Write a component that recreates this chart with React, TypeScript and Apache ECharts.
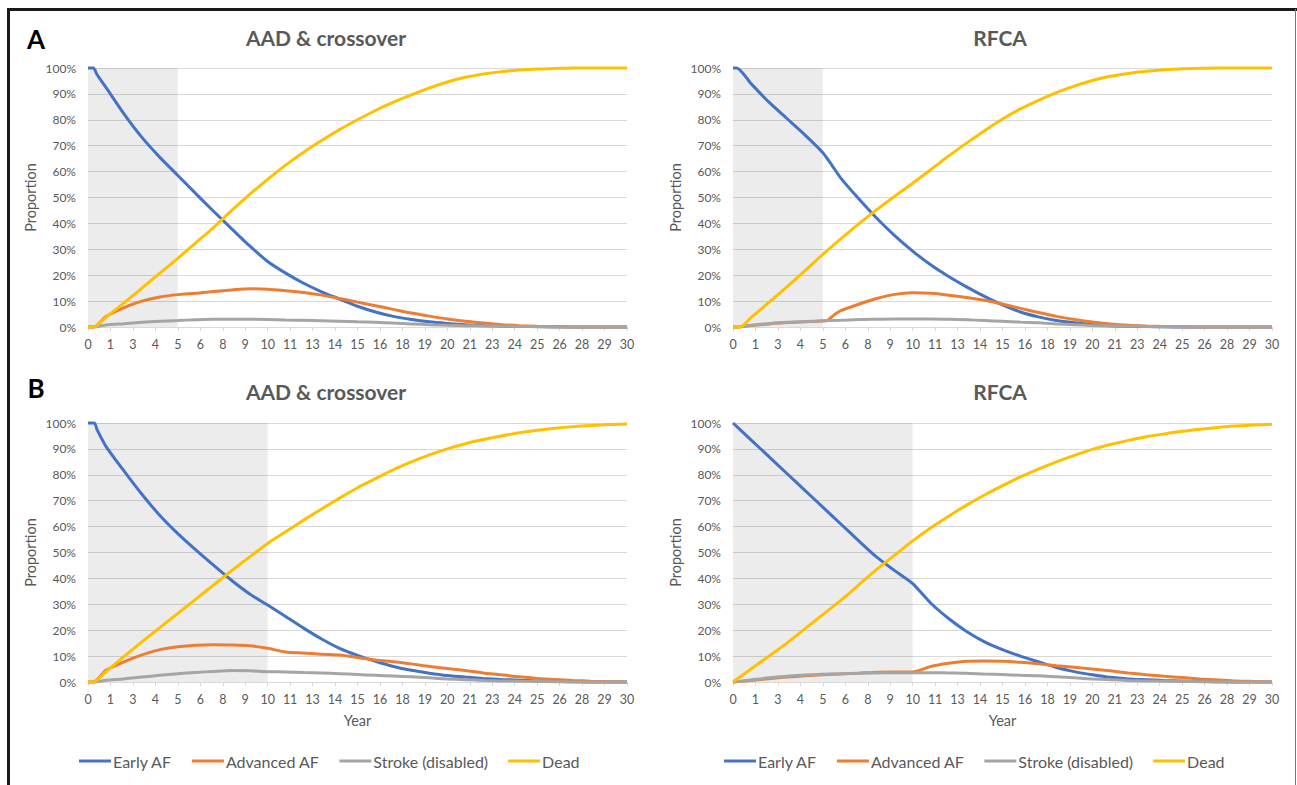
import React, { useEffect, useRef } from "react";
import * as echarts from "echarts";

// ---------- data (year, proportion %) ----------
const SERIES_NAMES = ["Early AF", "Advanced AF", "Stroke (disabled)", "Dead"];
const PANEL_TITLES = ["AAD & crossover", "RFCA", "AAD & crossover", "RFCA"];
const PANEL_LETTERS = ["A", "B"];
const SHADE_END_YEAR = [5, 5, 10, 10];
const X_TICK_STEP = 1.25;

const A_AAD_EARLY = [[0,100],[0.3,100],[0.5,97.5],[1,92.5],[2,82.3],[3,73.2],[4,65.5],[5,58.5],[6,51.5],[7,44.6],[8,37.9],[9,31.3],[10,25.3],[11,20.8],[12,16.9],[13,13.6],[14,10.8],[15,8],[16,5.8],[17,4.1],[18,2.9],[19,2],[20,1.4],[21,0.9],[22,0.6],[23,0.4],[24,0.25],[25,0.15],[26,0.1],[27,0],[28,0],[29,0],[30,0]];
const A_AAD_ADV = [[0,0],[0.3,0],[1,4],[2,7.5],[3,10],[4,11.6],[5,12.5],[6,13],[7,13.7],[8,14.3],[9,14.8],[10,14.6],[11,14],[12,13.3],[13,12.3],[14,11],[15,9.6],[16,8.2],[17,6.8],[18,5.4],[19,4.2],[20,3.1],[21,2.2],[22,1.5],[23,0.9],[24,0.5],[25,0.25],[26,0.1],[27,0],[28,0],[29,0],[30,0]];
const A_AAD_STROKE = [[0,0],[0.3,0],[1,0.8],[2,1.3],[3,1.8],[4,2.2],[5,2.5],[6,2.8],[7,3],[8,3],[9,3],[10,2.9],[11,2.7],[12,2.6],[13,2.4],[14,2.2],[15,2],[16,1.8],[17,1.5],[18,1.2],[19,0.9],[20,0.7],[21,0.5],[22,0.4],[23,0.3],[24,0.2],[25,0.1],[26,0],[27,0],[28,0],[29,0],[30,0]];
const A_AAD_DEAD = [[0,0],[0.3,0],[1,3.8],[2,9.3],[3,15],[4,20.8],[5,26.5],[6,32.5],[7,38.5],[8,45],[9,51.2],[10,57],[11,62.5],[12,67.5],[13,72],[14,76.2],[15,80],[16,83.6],[17,86.8],[18,89.6],[19,92.3],[20,94.6],[21,96.4],[22,97.7],[23,98.6],[24,99.2],[25,99.6],[26,99.8],[27,100],[28,100],[29,100],[30,100]];

const A_RFCA_EARLY = [[0,100],[0.2,100],[1,94],[2,86.8],[3,80.5],[4,74.2],[5,67.3],[5.5,62.5],[6,57.5],[7,49.5],[8,42],[9,35.3],[10,29.3],[11,24],[12,19.5],[13,15.5],[14,11.8],[15,8.5],[16,5.8],[17,3.9],[18,2.5],[19,1.6],[20,0.9],[21,0.5],[22,0.3],[23,0.15],[24,0.05],[25,0],[26,0],[27,0],[28,0],[29,0],[30,0]];
const A_RFCA_ADV = [[0,0],[0.2,0],[1,0.6],[2,1.2],[3,1.7],[4,2],[5,2.3],[5.25,2.5],[5.6,4.5],[6,6.3],[7,8.8],[8,11],[9,12.6],[10,13.2],[11,13],[12,12.3],[13,11.4],[14,10.3],[15,8.9],[16,7.2],[17,5.6],[18,4.1],[19,2.9],[20,1.9],[21,1.2],[22,0.7],[23,0.4],[24,0.2],[25,0.1],[26,0],[27,0],[28,0],[29,0],[30,0]];
const A_RFCA_STROKE = [[0,0],[0.2,0],[1,0.7],[2,1.3],[3,1.8],[4,2.1],[5,2.4],[6,2.6],[7,2.9],[8,3],[9,3.1],[10,3.1],[11,3.1],[12,3],[13,2.8],[14,2.5],[15,2.2],[16,1.9],[17,1.6],[18,1.2],[19,0.9],[20,0.6],[21,0.4],[22,0.3],[23,0.2],[24,0.1],[25,0],[26,0],[27,0],[28,0],[29,0],[30,0]];
const A_RFCA_DEAD = [[0,0],[0.4,0],[1,3.6],[2,9.5],[3,15.5],[4,21.7],[5,28],[6,34],[7,39.8],[8,45.3],[9,50.5],[10,55.5],[11,60.7],[12,66],[13,71],[14,75.8],[15,80.3],[16,84.2],[17,87.5],[18,90.5],[19,93],[20,95.2],[21,96.8],[22,97.9],[23,98.7],[24,99.3],[25,99.7],[26,99.9],[27,100],[28,100],[29,100],[30,100]];

const B_AAD_EARLY = [[0,100],[0.35,100],[0.5,97.5],[1,91],[2,81.5],[3,72.5],[4,64.3],[5,57.3],[6,51],[7,45],[8,39.2],[9,34],[10,29.7],[11,25.3],[12,20.8],[13,16.6],[14,13],[15,10.3],[16,8],[17,6],[18,4.5],[19,3.4],[20,2.5],[21,1.9],[22,1.4],[23,1],[24,0.7],[25,0.4],[26,0.2],[27,0.1],[28,0],[29,0],[30,0]];
const B_AAD_ADV = [[0,0],[0.3,0],[1,4.5],[2,7.8],[3,10.5],[4,12.5],[5,13.6],[6,14.2],[7,14.4],[8,14.3],[9,14],[10,13],[11,11.6],[12,11.2],[13,10.7],[14,10.4],[15,9.5],[16,8.5],[17,7.8],[18,7],[19,6],[20,5.2],[21,4.4],[22,3.5],[23,2.8],[24,2],[25,1.4],[26,1],[27,0.6],[28,0.3],[29,0.1],[30,0]];
const B_AAD_STROKE = [[0,0],[0.3,0],[1,0.7],[2,1.2],[3,1.9],[4,2.6],[5,3.2],[6,3.7],[7,4.1],[8,4.4],[9,4.3],[10,4],[11,3.9],[12,3.7],[13,3.5],[14,3.2],[15,2.9],[16,2.6],[17,2.3],[18,2],[19,1.6],[20,1.2],[21,0.9],[22,0.6],[23,0.4],[24,0.3],[25,0.2],[26,0.1],[27,0],[28,0],[29,0],[30,0]];
const B_AAD_DEAD = [[0,0],[0.3,0],[1,4],[2,9.8],[3,15.5],[4,21],[5,26.5],[6,32],[7,37.5],[8,43],[9,48.3],[10,53.5],[11,58],[12,62.5],[13,66.8],[14,71],[15,75],[16,78.5],[17,82],[18,85],[19,87.7],[20,90],[21,92],[22,93.6],[23,95],[24,96.2],[25,97.2],[26,98],[27,98.6],[28,99],[29,99.4],[30,99.6]];

const B_RFCA_EARLY = [[0,100],[1,93.5],[2,87],[3,80.5],[4,74],[5,67.5],[6,61],[7,54.5],[8,48.2],[9,43],[10,38],[11,30.5],[12,24.5],[13,19.5],[14,15.5],[15,12.5],[16,10],[17,7.8],[18,5.6],[19,4],[20,2.8],[21,1.8],[22,1.2],[23,0.9],[24,0.6],[25,0.4],[26,0.2],[27,0.1],[28,0],[29,0],[30,0]];
const B_RFCA_ADV = [[0,0],[1,0.6],[2,1.3],[3,1.9],[4,2.4],[5,2.8],[6,3.1],[7,3.4],[8,3.8],[9,3.9],[10,3.9],[10.5,4.8],[11,6],[12,7.2],[13,8],[14,8.1],[15,8],[16,7.6],[17,7],[18,6.3],[19,5.7],[20,5],[21,4.3],[22,3.5],[23,2.8],[24,2.2],[25,1.7],[26,1.2],[27,0.8],[28,0.4],[29,0.2],[30,0]];
const B_RFCA_STROKE = [[0,0],[1,0.8],[2,1.6],[3,2.2],[4,2.7],[5,3],[6,3.2],[7,3.4],[8,3.5],[9,3.6],[10,3.6],[11,3.6],[12,3.5],[13,3.4],[14,3.1],[15,2.9],[16,2.6],[17,2.4],[18,2],[19,1.6],[20,1.2],[21,0.9],[22,0.6],[23,0.4],[24,0.3],[25,0.2],[26,0.1],[27,0],[28,0],[29,0],[30,0]];
const B_RFCA_DEAD = [[0,0],[1,5],[2,10],[3,15],[4,20.5],[5,26],[6,31.5],[7,37.5],[8,43.5],[9,49],[10,54.5],[11,59.5],[12,64],[13,68.3],[14,72.2],[15,75.8],[16,79.2],[17,82.2],[18,85],[19,87.5],[20,89.8],[21,91.7],[22,93.3],[23,94.7],[24,95.8],[25,96.8],[26,97.6],[27,98.3],[28,98.8],[29,99.2],[30,99.5]];

const PANEL_DATA = [
  [A_AAD_EARLY, A_AAD_ADV, A_AAD_STROKE, A_AAD_DEAD],
  [A_RFCA_EARLY, A_RFCA_ADV, A_RFCA_STROKE, A_RFCA_DEAD],
  [B_AAD_EARLY, B_AAD_ADV, B_AAD_STROKE, B_AAD_DEAD],
  [B_RFCA_EARLY, B_RFCA_ADV, B_RFCA_STROKE, B_RFCA_DEAD],
];

// ---------- styles ----------
const COLORS = ["#4472C4", "#ED7D31", "#A5A5A5", "#FFC000"];
const FONT = "Lato, 'Noto Sans', sans-serif";
const TXT = "#595959";

export default function App() {
  const ref = useRef<HTMLDivElement>(null);
  useEffect(() => {
    document.body.style.margin = "0";
    const chart = echarts.init(ref.current!, null, { renderer: "svg" });
    const grids = [
      { left: 88, top: 68, width: 539, height: 259 },
      { left: 733, top: 68, width: 539, height: 259 },
      { left: 88, top: 423, width: 539, height: 259 },
      { left: 733, top: 423, width: 539, height: 259 },
    ];
    const xAxis = grids.map((_, i) => ({
      type: "value",
      gridIndex: i,
      min: 0,
      max: 30,
      interval: X_TICK_STEP,
      axisLine: { show: true, lineStyle: { color: "#d9d9d9", width: 1 } },
      axisTick: { show: true, length: 4, lineStyle: { color: "#d9d9d9" } },
      splitLine: { show: false },
      axisLabel: {
        formatter: (v: number) => String(Math.round(v)),
        color: TXT,
        fontSize: 12.5,
        fontFamily: FONT,
        margin: 11,
      },
      name: i >= 2 ? "Year" : "",
      nameLocation: "middle",
      nameGap: 31,
      nameTextStyle: { color: TXT, fontSize: 14.5, fontFamily: FONT },
    }));
    const yAxis = grids.map((_, i) => ({
      type: "value",
      gridIndex: i,
      min: 0,
      max: 100,
      interval: 10,
      axisLine: { show: false },
      axisTick: { show: false },
      splitLine: { show: true, lineStyle: { color: "#d9d9d9", width: 1 } },
      axisLabel: {
        formatter: "{value}%",
        color: TXT,
        fontSize: 12,
        fontFamily: FONT,
        margin: 12,
      },
      name: "Proportion",
      nameLocation: "middle",
      nameGap: 50,
      nameTextStyle: { color: TXT, fontSize: 14.5, fontFamily: FONT },
    }));
    const series: any[] = [];
    PANEL_DATA.forEach((panel, gi) => {
      panel.forEach((data, si) => {
        const s: any = {
          type: "line",
          name: SERIES_NAMES[si],
          xAxisIndex: gi,
          yAxisIndex: gi,
          data,
          showSymbol: false,
          smooth: 0.25,
          clip: false,
          lineStyle: { color: COLORS[si], width: 3 },
          itemStyle: { color: COLORS[si] },
          emphasis: { disabled: true },
        };
        if (si === 0) {
          s.markArea = {
            silent: true,
            itemStyle: { color: "rgba(0,0,0,0.075)" },
            data: [[{ xAxis: 0 }, { xAxis: SHADE_END_YEAR[gi] }]],
          };
        }
        series.push(s);
      });
    });
    const titleCenters = [
      [326, 37],
      [1000, 37],
      [326, 391],
      [1000, 391],
    ];
    const graphic: any[] = [
      { type: "line", shape: { x1: 7, y1: 9.5, x2: 1297, y2: 9.5 }, style: { stroke: "#1a1a1a", lineWidth: 3 } },
      { type: "line", shape: { x1: 8.5, y1: 8, x2: 8.5, y2: 785 }, style: { stroke: "#1a1a1a", lineWidth: 3 } },
      { type: "line", shape: { x1: 1295.5, y1: 9, x2: 1295.5, y2: 785 }, style: { stroke: "#777", lineWidth: 1 } },
    ];
    titleCenters.forEach(([x, y], i) => {
      graphic.push({
        type: "text",
        x,
        y,
        style: {
          text: PANEL_TITLES[i],
          fill: TXT,
          font: `bold 21px ${FONT}`,
          align: "center",
          verticalAlign: "middle",
          textAlign: "center",
          textVerticalAlign: "middle",
        },
      });
    });
    [[36, 39], [36, 388]].forEach(([x, y], i) => {
      graphic.push({
        type: "text",
        x,
        y,
        style: {
          text: PANEL_LETTERS[i],
          fill: "#000",
          font: `bold 26px ${FONT}`,
          align: "center",
          verticalAlign: "middle",
          textAlign: "center",
          textVerticalAlign: "middle",
        },
      });
    });
    const legendBase = {
      data: SERIES_NAMES,
      icon: "rect",
      itemWidth: 32,
      itemHeight: 3,
      itemGap: 20,
      padding: 0,
      top: 753,
      textStyle: { color: TXT, fontSize: 16, fontFamily: FONT, padding: [0, 0, 0, -3] },
      selectedMode: false,
    };
    chart.setOption({
      animation: false,
      backgroundColor: "#ffffff",
      grid: grids,
      xAxis,
      yAxis,
      series,
      graphic,
      legend: [
        { ...legendBase, left: 79 },
        { ...legendBase, left: 724 },
      ],
    });
    return () => chart.dispose();
  }, []);
  return <div ref={ref} style={{ width: 1297, height: 785 }} />;
}
